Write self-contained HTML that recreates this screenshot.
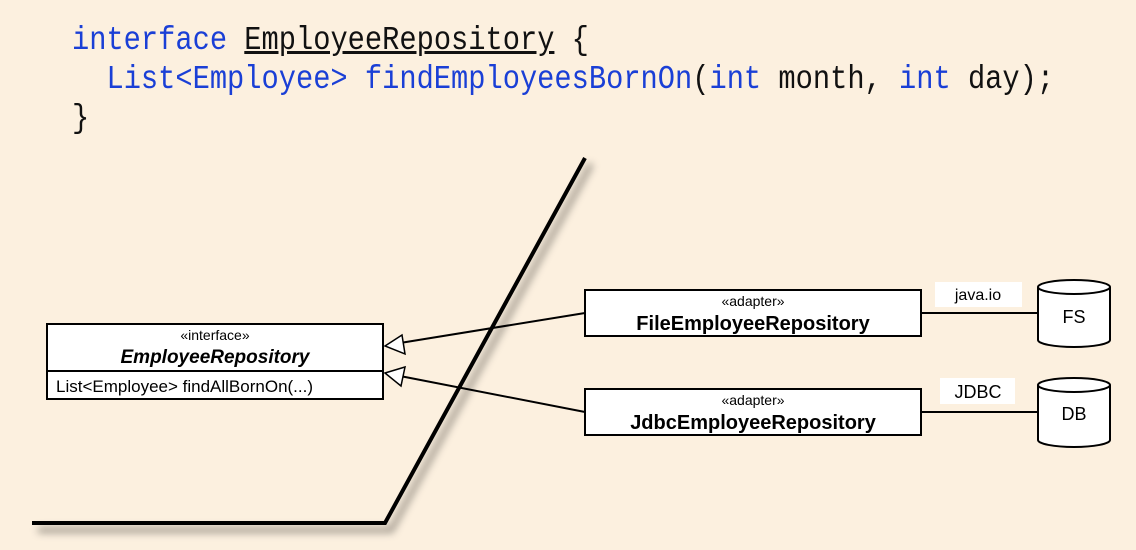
<!DOCTYPE html>
<html><head><meta charset="utf-8"><style>
body{margin:0;width:1136px;height:550px;background:#fcf0df;overflow:hidden;font-family:"Liberation Sans",sans-serif}
pre{position:absolute;left:72px;top:21px;margin:0;font-family:"Liberation Mono",monospace;font-size:33px;line-height:39px;color:#111;transform:scaleX(0.87);transform-origin:0 0;}
.k{color:#1a3fd6}
</style></head><body>
<pre><span class="k">interface</span> <u>EmployeeRepository</u> {
  <span class="k">List&lt;Employee&gt; findEmployeesBornOn</span>(<span class="k">int</span> month, <span class="k">int</span> day);
}</pre>
<svg width="1136" height="550" style="position:absolute;left:0;top:0" font-family="Liberation Sans, sans-serif">
<defs><filter id="sh" x="-20%" y="-20%" width="140%" height="140%"><feGaussianBlur stdDeviation="4"/></filter></defs>
<polyline points="591,164 391,530 38,530" fill="none" stroke="#000" stroke-opacity="0.35" stroke-width="6" filter="url(#sh)"/>
<polyline points="585,158 385,523 32,523" fill="none" stroke="#000" stroke-width="4"/>
<rect x="47" y="324" width="336" height="75" fill="#fff" stroke="#000" stroke-width="2"/>
<line x1="47" y1="371" x2="383" y2="371" stroke="#000" stroke-width="2"/>
<text x="215" y="340" font-size="14" text-anchor="middle">«interface»</text>
<text x="215" y="363" font-size="19" font-weight="bold" font-style="italic" text-anchor="middle">EmployeeRepository</text>
<text x="56" y="392" font-size="17">List&lt;Employee&gt; findAllBornOn(...)</text>
<line x1="585" y1="313" x2="400" y2="343" stroke="#000" stroke-width="2"/>
<line x1="585" y1="412" x2="400" y2="376" stroke="#000" stroke-width="2"/>
<polygon points="385,346 402,335 405,354" fill="#fff" stroke="#000" stroke-width="1.5"/>
<polygon points="385,373 405,367 401,386" fill="#fff" stroke="#000" stroke-width="1.5"/>
<rect x="585" y="290" width="336" height="46" fill="#fff" stroke="#000" stroke-width="2"/>
<text x="753" y="306" font-size="14" text-anchor="middle">«adapter»</text>
<text x="753" y="330" font-size="20" font-weight="bold" text-anchor="middle">FileEmployeeRepository</text>
<rect x="585" y="389" width="336" height="46" fill="#fff" stroke="#000" stroke-width="2"/>
<text x="753" y="405" font-size="14" text-anchor="middle">«adapter»</text>
<text x="753" y="429" font-size="20" font-weight="bold" text-anchor="middle">JdbcEmployeeRepository</text>
<line x1="921" y1="313" x2="1038" y2="313" stroke="#000" stroke-width="2"/>
<line x1="921" y1="412" x2="1038" y2="412" stroke="#000" stroke-width="2"/>
<rect x="935" y="282" width="87" height="25" fill="#fff"/>
<text x="978" y="300" font-size="16" text-anchor="middle">java.io</text>
<rect x="940" y="378" width="75" height="26" fill="#fff"/>
<text x="978" y="398" font-size="18" text-anchor="middle">JDBC</text>
<path d="M1038,287 L1038,340 A36,7 0 0 0 1110,340 L1110,287" fill="#fff" stroke="#000" stroke-width="2"/>
<ellipse cx="1074" cy="287" rx="36" ry="7" fill="#fff" stroke="#000" stroke-width="2"/>
<text x="1074" y="323" font-size="18" text-anchor="middle">FS</text>
<path d="M1038,385 L1038,440 A36,7 0 0 0 1110,440 L1110,385" fill="#fff" stroke="#000" stroke-width="2"/>
<ellipse cx="1074" cy="385" rx="36" ry="7" fill="#fff" stroke="#000" stroke-width="2"/>
<text x="1074" y="420" font-size="18" text-anchor="middle">DB</text>
</svg>
</body></html>
